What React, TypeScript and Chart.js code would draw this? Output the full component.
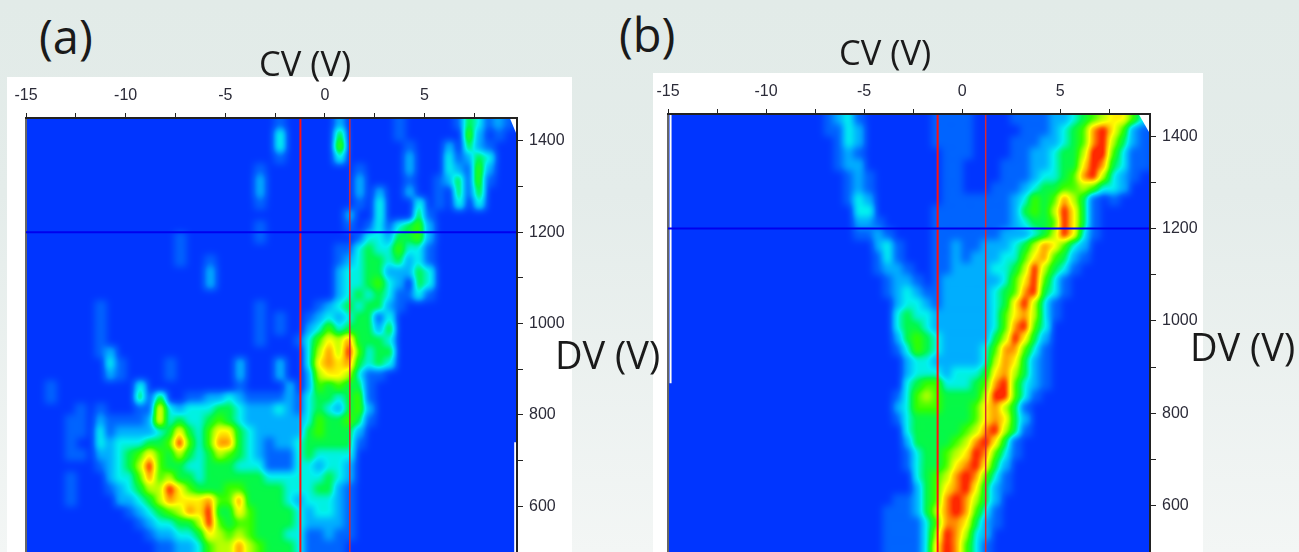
import React, { useEffect, useRef } from "react";
import { Chart, registerables } from "chart.js";

Chart.register(...registerables);

// Intensity, one digit (0-9) per 0.5 V x 25 V cell.
// Rows run from the top of the plot (DV 1437.5) down to DV 512.5; columns from CV -14.75 upward.
const rowsA = [
  "0000000000 0000000000 0000010000 0200000100 0001431210",
  "0000000000 0000000000 0000030000 0400000100 0000520100",
  "0000000000 0000000000 0000030000 0500000010 0020421000",
  "0000000000 0000000000 0000010000 0300000020 0031243000",
  "0000000000 0000000000 0001000000 0001000020 0032152000",
  "0000000000 0000000000 0002000000 0002000010 0124151000",
  "0000000000 0000000000 0002000000 0002020020 0104140000",
  "0000000000 0000000000 0001000000 0001030003 0103030000",
  "0000000000 0000000000 0000000000 0020030004 1000000000",
  "0000000000 0000000000 0001000000 0010131345 2000000000",
  "0000000000 0000010000 0001000000 0001332445 2000000000",
  "0000000000 0000010000 0000000000 0113433533 1000000000",
  "0000000000 0000010010 0000000000 0123443423 1000000000",
  "0000000000 0000000020 0000000000 0233442224 3000000000",
  "0000000000 0000000020 0000000000 0233453204 3000000000",
  "0000000000 0000000000 0000000000 0234343113 1000000000",
  "0000000100 0000000000 0001000001 2343442100 0000000000",
  "0000000100 0000000000 0001010012 3234413000 0000000000",
  "0000000100 0000000000 0001010023 5344424000 0000000000",
  "0000000100 0000000000 0001000135 7684443000 0000000000",
  "0000000120 0000000000 0000000036 8695344000 0000000000",
  "0000000031 0000100000 0200020037 8784343000 0000000000",
  "0000000021 0000100000 0200020026 7763110000 0000000000",
  "0010000000 0300000000 0100002025 4544100000 0000000000",
  "0010000000 0414001122 3211112134 4345100000 0000000000",
  "0000010100 0117323334 4322232134 3245200000 0000000000",
  "0000110211 1127343345 4322222235 4454100000 0000000000",
  "0000110312 2223474357 7432222245 4442000000 0000000000",
  "0000100323 3344595358 8432122344 4441000000 0000000000",
  "0000110223 4575464346 5432111343 3330000000 0000000000",
  "0000000123 4695443344 4333111332 3320000000 0000000000",
  "0000100023 3585644344 4444333333 4320000000 0000000000",
  "0000100012 3466975444 5544443334 4210000000 0000000000",
  "0000100002 2346877785 5844443233 3210000000 0000000000",
  "0000000000 1234568794 4754444323 3210000000 0000000000",
  "0000000000 0123344695 4554444322 2210000000 0000000000",
  "0000000000 0012233476 5654443311 2110000000 0000000000",
  "0000000000 0001122356 6865444311 1100000000 0000000000",
];

const rowsB = [
  "0000000000 0000001231 0000000111 1000011112 2345677532",
  "0000000000 0000001132 0000000111 1000001112 3458975210",
  "0000000000 0000000132 0000000111 1000011122 3458964210",
  "0000000000 0000000121 0000000011 1000011223 4469953110",
  "0000000000 0000000122 0000000011 0000111223 4479843110",
  "0000000000 0000000012 1000000011 0000111233 4589632100",
  "0000000000 0000000012 1000000011 0001112344 5565332000",
  "0000000000 0000000013 2000000011 1111123545 8641010000",
  "0000000000 0000000003 3000000111 1111124546 9741000000",
  "0000000000 0000000002 2100000111 1111123445 9741000000",
  "0000000000 0000000001 1210000111 1111222346 9731000000",
  "0000000000 0000000000 0231000112 1122234687 5320000000",
  "0000000000 0000000000 0131000112 1222335785 4210000000",
  "0000000000 0000000000 0122100112 2223346964 3100000000",
  "0000000000 0000000000 0012210122 2222357953 1000000000",
  "0000000000 0000000000 0012321122 2223458943 1000000000",
  "0000000000 0000000000 0002332122 2223479631 0000000000",
  "0000000000 0000000000 0003433222 2223578631 0000000000",
  "0000000000 0000000000 0003443222 2223589530 0000000000",
  "0000000000 0000000000 0002454322 2224697420 0000000000",
  "0000000000 0000000000 0001354322 2235885310 0000000000",
  "0000000000 0000000000 0000233222 2236874210 0000000000",
  "0000000000 0000000000 0000233323 3347864210 0000000000",
  "0000000000 0000000000 0000345533 3458953210 0000000000",
  "0000000000 0000000000 0001356544 4469953100 0000000000",
  "0000000000 0000000000 0002355544 4578641000 0000000000",
  "0000000000 0000000000 0001344444 4578742000 0000000000",
  "0000000000 0000000000 0000344444 5689641000 0000000000",
  "0000000000 0000000000 0000244445 6897410000 0000000000",
  "0000000000 0000000000 0000134456 7985310000 0000000000",
  "0000000000 0000000000 0000134457 8974200000 0000000000",
  "0000000000 0000000000 0000034568 9853100000 0000000000",
  "0000000000 0000000000 0000024578 9742100000 0000000000",
  "0000000000 0000000000 0001124589 8642000000 0000000000",
  "0000000000 0000000000 0011124689 8531000000 0000000000",
  "0000000000 0000000000 0011113588 7421000000 0000000000",
  "0000000000 0000000000 0011113698 6320000000 0000000000",
  "0000000000 0000000000 0011113798 5310000000 0000000000",
];

const levelColors: number[][] = [
  [0, 53, 255], [0, 98, 255], [0, 170, 255], [0, 240, 240], [0, 248, 80],
  [48, 255, 0], [168, 255, 0], [255, 255, 0], [255, 170, 0], [255, 40, 0],
];

const xMajor = 5;
const yMajor = 200;
const redA = [-1.23, 1.25];
const redB = [-1.25, 1.2];
const blueDv = 1200;
const cvStart = -14.75;
const dvStart = 1437.5;
const levelStep = 28;
const blurRadius = 3;
const blurPasses = 3;
const peakGain = 1.03;

function cells(rows: string[]) {
  const out: { x: number; y: number; v: number }[] = [];
  rows.forEach((row, j) => {
    row.replace(/ /g, "").split("").forEach((c, i) => {
      const v = Number(c);
      if (v > 0) out.push({ x: cvStart + i * 0.5, y: dvStart - j * 25, v });
    });
  });
  return out;
}

function boxBlur(src: Float32Array, w: number, h: number, r: number) {
  const tmp = new Float32Array(w * h);
  const n = 2 * r + 1;
  for (let y = 0; y < h; y++) {
    let sum = 0;
    for (let k = -r; k <= r; k++) sum += src[y * w + Math.min(w - 1, Math.max(0, k))];
    for (let x = 0; x < w; x++) {
      tmp[y * w + x] = sum / n;
      sum += src[y * w + Math.min(w - 1, x + r + 1)] - src[y * w + Math.max(0, x - r)];
    }
  }
  for (let x = 0; x < w; x++) {
    let sum = 0;
    for (let k = -r; k <= r; k++) sum += tmp[Math.min(h - 1, Math.max(0, k)) * w + x];
    for (let y = 0; y < h; y++) {
      src[y * w + x] = sum / n;
      sum += tmp[Math.min(h - 1, y + r + 1) * w + x] - tmp[Math.max(0, y - r) * w + x];
    }
  }
}

function heatPlugin(corner: { x: number; y: number }[]) {
  return {
    id: "heat",
    beforeDatasetDraw(chart: any, args: any) {
      if (args.index !== 0) return;
      const { left, top, right, bottom } = chart.chartArea;
      chart.ctx.save();
      chart.ctx.fillStyle = "#000000";
      chart.ctx.fillRect(left, top, right - left, bottom - top);
      chart.ctx.restore();
    },
    afterDatasetDraw(chart: any, args: any) {
      if (args.index !== 0) return;
      const { left, top, right, bottom } = chart.chartArea;
      const ctx = chart.ctx;
      const x0 = Math.round(left);
      const y0 = Math.round(top);
      const w = Math.round(right) - x0;
      const h = Math.round(bottom) - y0;
      const img = ctx.getImageData(x0, y0, w, h);
      const field = new Float32Array(w * h);
      for (let i = 0; i < w * h; i++) field[i] = img.data[i * 4] / levelStep;
      for (let p = 0; p < blurPasses; p++) boxBlur(field, w, h, blurRadius);
      for (let i = 0; i < w * h; i++) {
        const v = Math.min(9, field[i] * peakGain);
        const a = Math.floor(v);
        const b = Math.min(9, a + 1);
        const t = v - a;
        for (let c = 0; c < 3; c++) {
          img.data[i * 4 + c] = levelColors[a][c] * (1 - t) + levelColors[b][c] * t;
        }
        img.data[i * 4 + 3] = 255;
      }
      ctx.save();
      ctx.fillStyle = "#ffffff";
      ctx.fillRect(x0 - 10, y0 - 10, w + 20, 10);
      ctx.fillRect(x0 - 10, y0, 10, h);
      ctx.fillRect(x0 + w, y0 - 10, 10, h + 20);
      ctx.fillRect(x0 - 10, y0 + h, w + 20, 10);
      ctx.restore();
      ctx.putImageData(img, x0, y0);
      // the unmeasured corner of the plot stays white
      const sx = chart.scales.x;
      const sy = chart.scales.y;
      ctx.save();
      ctx.fillStyle = "#ffffff";
      ctx.beginPath();
      ctx.moveTo(sx.getPixelForValue(corner[0].x), sy.getPixelForValue(corner[0].y));
      ctx.lineTo(sx.getPixelForValue(corner[1].x), sy.getPixelForValue(corner[1].y));
      ctx.lineTo(sx.getPixelForValue(corner[1].x), sy.getPixelForValue(corner[0].y));
      ctx.closePath();
      ctx.fill();
      ctx.restore();
    },
  };
}

type Panel = {
  rows: string[];
  xMax: number;
  yMax: number;
  left: number;
  axisTop: number;
  axisRight: number;
  red: number[];
  corner: { x: number; y: number }[];
  stripes: { color: string; pts: { x: number; y: number }[] }[];
};

function build(canvas: HTMLCanvasElement, p: Panel) {
  const line = (data: any[], color: string, width: number, order = 1) => ({
    type: "scatter",
    data,
    showLine: true,
    borderColor: color,
    backgroundColor: color,
    borderWidth: width,
    pointRadius: 0,
    clip: false,
    order,
  });
  const data = cells(p.rows);
  const [redL, redR] = p.red;
  return new Chart(canvas, {
    type: "scatter",
    data: {
      datasets: [
        {
          data,
          pointStyle: "rect",
          pointRadius: 8.5,
          borderWidth: 0,
          pointBorderWidth: 0,
          pointBackgroundColor: data.map((d) => {
            const g = d.v * levelStep;
            return `rgb(${g},${g},${g})`;
          }),
          clip: false,
          order: 5,
        },
        ...p.stripes.map((s) => line(s.pts, s.color, 2, 3)),
        line([{ x: -15, y: blueDv }, { x: p.xMax, y: blueDv }], "#0000ee", 2),
        line(
          [{ x: redR, y: 500 }, { x: redR, y: p.yMax }, { x: redL, y: p.yMax }],
          "#d82832",
          1.5
        ),
        line([{ x: redL, y: p.yMax }, { x: redL, y: 500 }], "#ff1010", 2),
      ] as any,
    },
    plugins: [heatPlugin(p.corner)],
    options: {
      responsive: false,
      animation: false,
      layout: { padding: { left: p.left, right: 0, top: 0, bottom: 10 } },
      plugins: { legend: { display: false }, tooltip: { enabled: false } },
      scales: {
        x: {
          type: "linear",
          position: "top",
          min: -15,
          max: p.xMax,
          afterFit: (s: any) => {
            s.height = p.axisTop;
            s.paddingLeft = 0;
            s.paddingRight = 0;
          },
          border: { color: "#222222", width: 2, z: 1 },
          grid: { drawOnChartArea: false, tickLength: 5, color: "#222222", z: 1 },
          ticks: {
            z: 1,
            stepSize: 2.5,
            includeBounds: false,
            autoSkip: false,
            maxRotation: 0,
            padding: 8,
            color: "#2b2b38",
            font: { family: "'Liberation Sans'", size: 16 },
            callback: (v: any) => (Number(v) % xMajor === 0 ? String(v) : ""),
          },
        },
        y: {
          type: "linear",
          position: "right",
          min: 500,
          max: p.yMax,
          afterFit: (s: any) => {
            s.width = p.axisRight;
            s.paddingTop = 0;
            s.paddingBottom = 0;
          },
          border: { color: "#222222", width: 2, z: 1 },
          grid: { drawOnChartArea: false, tickLength: 6, color: "#222222", z: 1 },
          ticks: {
            z: 1,
            stepSize: 100,
            includeBounds: false,
            autoSkip: false,
            padding: 6,
            color: "#2b2b38",
            font: { family: "'Liberation Sans'", size: 16 },
            callback: (v: any) => (Number(v) % yMajor === 0 ? String(v) : ""),
          },
        },
      },
    } as any,
  });
}

const panelA: Panel = {
  rows: rowsA,
  xMax: 9.64,
  yMax: 1450,
  left: 19,
  axisTop: 41,
  axisRight: 55,
  red: redA,
  corner: [{ x: 9.28, y: 1450 }, { x: 9.64, y: 1412 }],
  stripes: [
    { color: "#ffffff", pts: [{ x: 9.55, y: 740 }, { x: 9.55, y: 500 }] },
    { color: "#666666", pts: [{ x: -15, y: 1450 }, { x: -15, y: 500 }] },
  ],
};

const panelB: Panel = {
  rows: rowsB,
  xMax: 9.58,
  yMax: 1448,
  left: 15,
  axisTop: 41,
  axisRight: 53,
  red: redB,
  corner: [{ x: 9.0, y: 1448 }, { x: 9.58, y: 1405 }],
  stripes: [
    { color: "#ffffff", pts: [{ x: -14.87, y: 1448 }, { x: -14.87, y: 865 }] },
    { color: "#666666", pts: [{ x: -15, y: 1448 }, { x: -15, y: 500 }] },
    { color: "#aaaaaa", pts: [{ x: 9.58, y: 835 }, { x: 9.58, y: 500 }] },
  ],
};

const textStyle = (left: number, top: number, size: number): React.CSSProperties => ({
  position: "absolute",
  left,
  top,
  fontFamily: "'Open Sans'",
  fontSize: size,
  lineHeight: `${size}px`,
  color: "#1a1a1a",
  whiteSpace: "nowrap",
  pointerEvents: "none",
});

export default function App() {
  const a = useRef<HTMLCanvasElement>(null);
  const b = useRef<HTMLCanvasElement>(null);
  useEffect(() => {
    const ca = build(a.current!, panelA);
    const cb = build(b.current!, panelB);
    return () => {
      ca.destroy();
      cb.destroy();
    };
  }, []);
  return (
    <div
      style={{
        position: "fixed",
        inset: 0,
        overflow: "hidden",
        background: "linear-gradient(180deg, #e2ebe8 0%, #e4ecea 35%, #f3f6f5 100%)",
      }}
    >
      <canvas
        ref={a}
        width={565}
        height={485}
        style={{ position: "absolute", left: 7, top: 77, background: "#fff", display: "block" }}
      />
      <canvas
        ref={b}
        width={550}
        height={489}
        style={{ position: "absolute", left: 653, top: 73, background: "#fff", display: "block" }}
      />
      <div style={textStyle(39, 13, 47)}>(a)</div>
      <div style={textStyle(619, 11, 47)}>(b)</div>
      <div style={textStyle(259, 46, 34.5)}>CV (V)</div>
      <div style={textStyle(839, 35, 34.5)}>CV (V)</div>
      <div style={textStyle(555, 335, 38)}>DV (V)</div>
      <div style={textStyle(1190, 327, 38)}>DV (V)</div>
    </div>
  );
}
